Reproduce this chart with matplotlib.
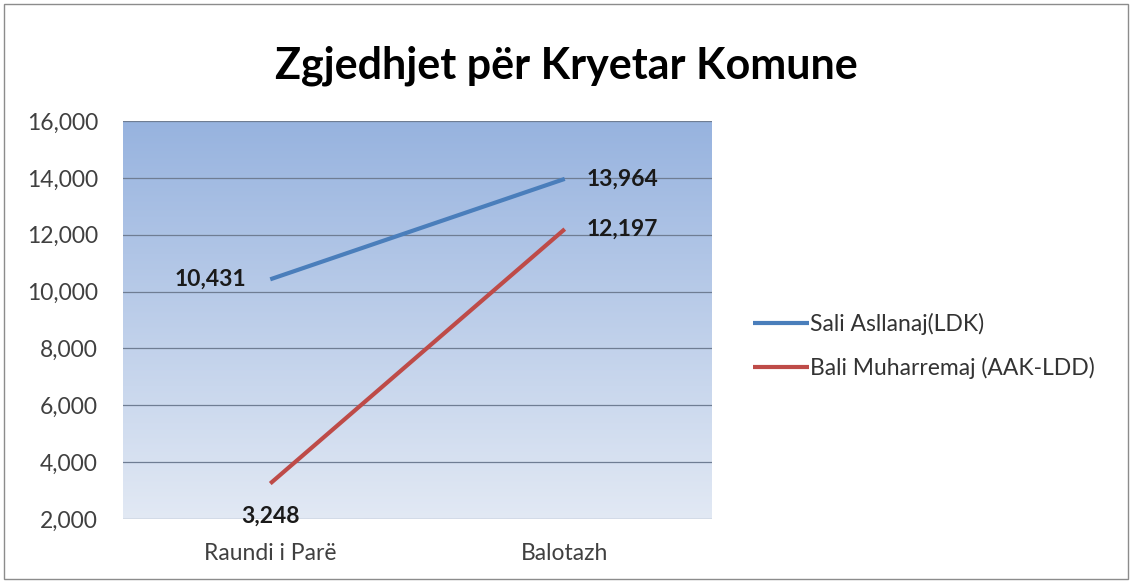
import matplotlib.pyplot as plt
import numpy as np
from matplotlib.colors import LinearSegmentedColormap
from matplotlib.patches import Rectangle

rounds = ['Raundi i Parë', 'Balotazh']
sali = [10431, 13964]
bali = [3248, 12197]
series_names = ['Sali Asllanaj(LDK)', 'Bali Muharremaj (AAK-LDD)']
yticks = [2000, 4000, 6000, 8000, 10000, 12000, 14000, 16000]

plt.rcParams['font.family'] = ['Lato', 'DejaVu Sans']

fig = plt.figure(figsize=(11.32, 5.83), dpi=100)
ax = fig.add_axes([123 / 1132, 1 - 519 / 583, 589 / 1132, 398 / 583])

# gradient background (blue top -> pale bottom)
cmap = LinearSegmentedColormap.from_list('bg', ['#e2e9f4', '#97b3df'])
grad = np.linspace(0, 1, 256).reshape(-1, 1)
ax.imshow(grad, cmap=cmap, aspect='auto', origin='lower',
          extent=[0, 1, 0, 1], transform=ax.transAxes, zorder=0)

x = np.arange(len(rounds))
ax.plot(x, sali, color='#4a7ebb', lw=3, solid_capstyle='butt', zorder=3, label=series_names[0])
ax.plot(x, bali, color='#be4b48', lw=3, solid_capstyle='butt', zorder=3, label=series_names[1])

ax.set_xlim(-0.5, 1.5)
ax.set_ylim(2000, 16000)
ax.set_yticks(yticks)
ax.set_yticklabels([f'{v:,}' for v in yticks], fontsize=16.5, color='#404040')
ax.set_xticks(x)
ax.set_xticklabels(rounds, fontsize=16.5, color='#404040')
ax.tick_params(length=0)
ax.tick_params(axis='y', pad=18)
ax.tick_params(axis='x', pad=17)
ax.grid(axis='y', color='#6f7d93', lw=0.9)
ax.set_axisbelow(True)
for s in ax.spines.values():
    s.set_visible(False)

lab = dict(fontsize=16.5, fontweight='bold', color='#1a1a1a', zorder=4)
ax.annotate(f'{sali[0]:,}', (x[0], sali[0]), xytext=(-17, 0), textcoords='offset points',
            ha='right', va='center', **lab)
ax.annotate(f'{bali[0]:,}', (x[0], bali[0]), xytext=(0, -16), textcoords='offset points',
            ha='center', va='top', **lab)
ax.annotate(f'{sali[1]:,}', (x[1], sali[1]), xytext=(16, 0), textcoords='offset points',
            ha='left', va='center', **lab)
ax.annotate(f'{bali[1]:,}', (x[1], bali[1]), xytext=(16, 0), textcoords='offset points',
            ha='left', va='center', **lab)

fig.text(0.5, 1 - 66 / 583, 'Zgjedhjet për Kryetar Komune', ha='center', va='center',
         fontsize=31, fontweight='bold', color='black')

leg = ax.legend(loc='upper left', bbox_to_anchor=(732 / 1132, 1 - 292 / 583),
                bbox_transform=fig.transFigure, frameon=False, fontsize=16.5,
                handlelength=2.45, handletextpad=0.05, labelspacing=0.95)
for t in leg.get_texts():
    t.set_color('#333333')

fig.patches.append(Rectangle((4 / 1132, 4 / 583), 1 - 8 / 1132, 1 - 8 / 583,
                             transform=fig.transFigure, fill=False,
                             edgecolor='#8c8c8c', lw=1))

fig.savefig('out.png', dpi=100)
